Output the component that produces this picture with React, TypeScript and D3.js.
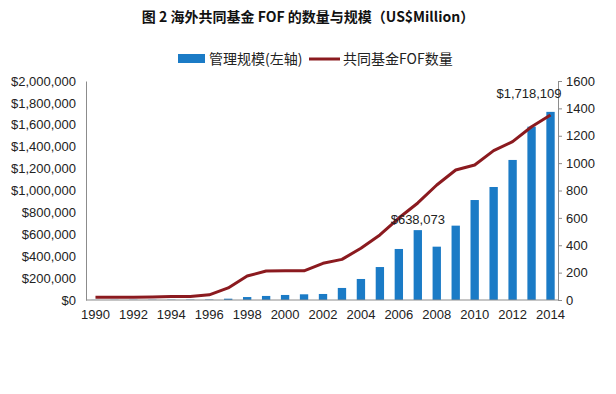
import React, { useRef, useEffect } from "react";
import * as d3 from "d3";

const years = d3.range(1990, 2015).map(String);
// 管理规模 (US$ Million), left axis
const aum = [
	1000, 1500, 2000, 2000, 2500, 3000, 4000, 12000, 27000, 37000, 46000, 52000,
	55000, 110000, 192000, 301000, 466000, 638073, 487000, 679000, 913000,
	1032000, 1279000, 1583000, 1718109,
];
// 共同基金FOF数量, right axis
const fofCount = [
	20, 20, 20, 22, 25, 26, 38, 88, 175, 212, 214, 213, 268, 297, 378, 475, 599,
	709, 840, 950, 986, 1091, 1157, 1266, 1351,
];
const leftTicks = d3.range(0, 2000001, 200000);
const rightTicks = d3.range(0, 1601, 200);
const labelledYears = ["2007", "2014"];

const drawChart = (svgRef) => {
	const width = 616,
		height = 394;
	const margin = { top: 81, right: 56, bottom: 94, left: 86 };
	const font = "'Liberation Sans', 'Noto Sans', sans-serif";
	const cjk = "'Noto Sans CJK SC', sans-serif";

	const svg = d3.select(svgRef.current);
	svg.selectAll("*").remove();
	svg.attr("width", width).attr("height", height).style("background", "#fff");

	const x = d3
		.scaleBand()
		.domain(years)
		.range([margin.left, width - margin.right])
		.paddingInner(0.56)
		.paddingOuter(0.28);
	const yL = d3
		.scaleLinear()
		.domain([0, 2000000])
		.range([height - margin.bottom, margin.top]);
	const yR = d3
		.scaleLinear()
		.domain([0, 1600])
		.range([height - margin.bottom, margin.top]);

	// title
	svg
		.append("text")
		.attr("x", width / 2)
		.attr("y", 22)
		.attr("text-anchor", "middle")
		.attr("font-family", cjk)
		.attr("font-weight", "bold")
		.attr("font-size", 14)
		.attr("fill", "#111")
		.text("图 2 海外共同基金 FOF 的数量与规模（US$Million）");

	// legend
	const lg = svg.append("g").attr("font-family", cjk).attr("font-size", 14).attr("fill", "#222");
	lg.append("rect").attr("x", 178).attr("y", 54).attr("width", 27).attr("height", 9).attr("fill", "#1b7bc6");
	lg.append("text").attr("x", 209).attr("y", 64).text("管理规模(左轴)");
	lg.append("line")
		.attr("x1", 309).attr("x2", 340).attr("y1", 59).attr("y2", 59)
		.attr("stroke", "#8b1a1f").attr("stroke-width", 3);
	lg.append("text").attr("x", 343).attr("y", 64).text("共同基金FOF数量");

	// bars
	svg
		.append("g")
		.selectAll("rect")
		.data(aum)
		.enter()
		.append("rect")
		.attr("x", (d, i) => x(years[i]))
		.attr("width", x.bandwidth())
		.attr("y", (d) => yL(d))
		.attr("height", (d) => yL(0) - yL(d))
		.attr("fill", "#1b7bc6");

	// axes
	const axisColor = "#8c8c8c";
	const left = svg
		.append("g")
		.attr("transform", `translate(${margin.left},0)`)
		.call(d3.axisLeft(yL).tickValues(leftTicks).tickSize(0).tickPadding(10).tickFormat((d) => "$" + d3.format(",")(d)));
	const right = svg
		.append("g")
		.attr("transform", `translate(${width - margin.right - 2},0)`)
		.call(d3.axisRight(yR).tickValues(rightTicks).tickSize(4).tickPadding(4).tickFormat(d3.format("d")));
	const bottom = svg
		.append("g")
		.attr("transform", `translate(0,${yL(0)})`)
		.call(
			d3
				.axisBottom(x)
				.tickValues(years.filter((d, i) => i % 2 === 0))
				.tickSize(0)
				.tickPadding(10)
		);
	[left, right, bottom].forEach((g) => {
		g.select(".domain").attr("stroke", axisColor);
		g.selectAll(".tick line").attr("stroke", axisColor);
		g.selectAll("text").attr("font-family", font).attr("font-size", 13).attr("fill", "#222");
	});
	bottom.select(".domain").attr("d", `M${margin.left},0H${width - margin.right - 2}`);

	// line
	const line = d3
		.line()
		.x((d, i) => x(years[i]) + x.bandwidth() / 2)
		.y((d) => yR(d));
	svg
		.append("path")
		.datum(fofCount)
		.attr("d", line)
		.attr("fill", "none")
		.attr("stroke", "#8b1a1f")
		.attr("stroke-width", 3)
		.attr("stroke-linejoin", "round");

	// data labels
	svg
		.append("g")
		.selectAll("text")
		.data(labelledYears)
		.enter()
		.append("text")
		.attr("x", (d) => {
			const cx = x(d) + x.bandwidth() / 2;
			return d === "2014" ? cx + 11 : cx;
		})
		.attr("y", (d) => (d === "2014" ? 98 : yL(aum[years.indexOf(d)]) - 6))
		.attr("text-anchor", (d) => (d === "2014" ? "end" : "middle"))
		.attr("font-family", font)
		.attr("font-size", 13)
		.attr("fill", "#222")
		.text((d) => "$" + d3.format(",")(aum[years.indexOf(d)]));

	return svg;
};

const App = () => {
	const svg = useRef(null);

	useEffect(() => {
		document.body.style.margin = "0";
		drawChart(svg);
	}, []);

	return (
		<div className="chart">
			<svg ref={svg} style={{ display: "block" }} />
		</div>
	);
};

export default App;
